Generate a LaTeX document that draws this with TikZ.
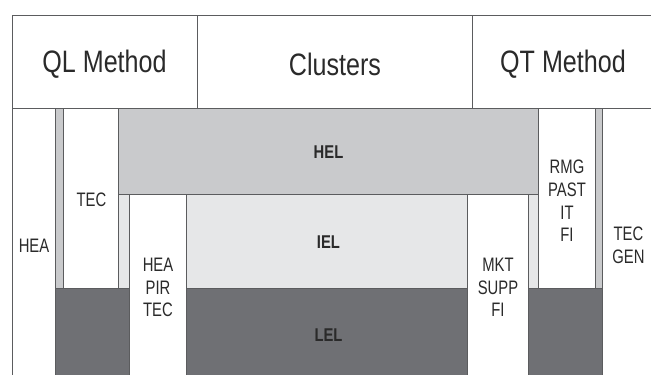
\documentclass[tikz,border=0pt]{standalone}
\usepackage{fontspec}
\setmainfont{Liberation Sans}
\newfontfamily\hdrfont[FakeStretch=0.81]{Liberation Sans}
\newfontfamily\lblfont[FakeStretch=0.76]{Liberation Sans}
\newfontfamily\lvlfont[FakeStretch=0.80]{Liberation Sans}
\usetikzlibrary{fit}
\definecolor{linegray}{HTML}{5B5C5E}
\definecolor{helgray}{HTML}{C9CACC}
\definecolor{ielgray}{HTML}{E6E7E8}
\definecolor{lelgray}{HTML}{6F7074}
\definecolor{txt}{HTML}{2A2A2A}
\begin{document}
\begin{tikzpicture}[x=1pt,y=-1pt,
  cell/.style={draw=linegray, line width=1pt, inner sep=0pt, outer sep=0pt, fill=white},
  lbl/.style={inner sep=0pt, align=center, text=txt,
    font=\lblfont\fontsize{19.5}{22.7}\selectfont},
  hdr/.style={inner sep=0pt, text=txt, font=\hdrfont\fontsize{31}{36}\selectfont},
  lvl/.style={inner sep=0pt, text=txt, font=\lvlfont\bfseries\fontsize{18.5}{22}\selectfont}]
\useasboundingbox (0,0) rectangle (651,375);
\clip (0,0) rectangle (651,375);
\fill[white] (0,0) rectangle (651,375);
% header cells
\node[cell, fit={(12,15)(197,108)}] (ql) {};
\node[cell, fit={(197,15)(472,108)}] (cl) {};
\node[cell, fit={(472,15)(653,108)}] (qt) {};
% left part
\node[cell, fit={(12,108)(55,377)}] (hea) {};
\node[cell, fill=helgray, fit={(55,108)(63,288)}] (s1) {};
\node[cell, fit={(63,108)(118,288)}] (tec) {};
\node[cell, fill=lelgray, fit={(55,288)(129,377)}] (d1) {};
% levels
\node[cell, fill=helgray, fit={(118,108)(538,194)}] (hel) {};
\node[cell, fill=ielgray, fit={(118,194)(129,288)}] (s2) {};
\node[cell, fit={(129,194)(186,377)}] (hpt) {};
\node[cell, fill=ielgray, fit={(186,194)(467,288)}] (iel) {};
\node[cell, fill=lelgray, fit={(186,288)(467,377)}] (lel) {};
% right part
\node[cell, fit={(467,194)(528,377)}] (msf) {};
\node[cell, fill=ielgray, fit={(528,194)(538,288)}] (s3) {};
\node[cell, fill=lelgray, fit={(528,288)(602,377)}] (d2) {};
\node[cell, fit={(538,108)(595,288)}] (rmg) {};
\node[cell, fill=helgray, fit={(595,108)(602,288)}] (s4) {};
\node[cell, fit={(602,108)(653,377)}] (tg) {};
% labels
\node[hdr] (qlt) at (104.5,64.5) {QL Method};
\node[hdr] (clt) at (335,64) {Clusters};
\node[hdr] (qtt) at (563,64) {QT Method};
\node[lbl] (heat) at (34,245.5) {HEA};
\node[lbl] (tect) at (91.5,200) {TEC};
\node[lvl] (helt) at (328.5,152.5) {HEL};
\node[lvl] (ielt) at (328.5,242) {IEL};
\node[lvl] (lelt) at (328.5,335) {LEL};
\node[lbl] (hptt) at (158,287.5) {HEA\\PIR\\TEC};
\node[lbl] (msft) at (498,287.5) {MKT\\SUPP\\FI};
\node[lbl] (rmgt) at (567,201) {RMG\\PAST\\IT\\FI};
\node[lbl] (tgt) at (628.5,245.5) {TEC\\GEN};
\end{tikzpicture}
\end{document}
